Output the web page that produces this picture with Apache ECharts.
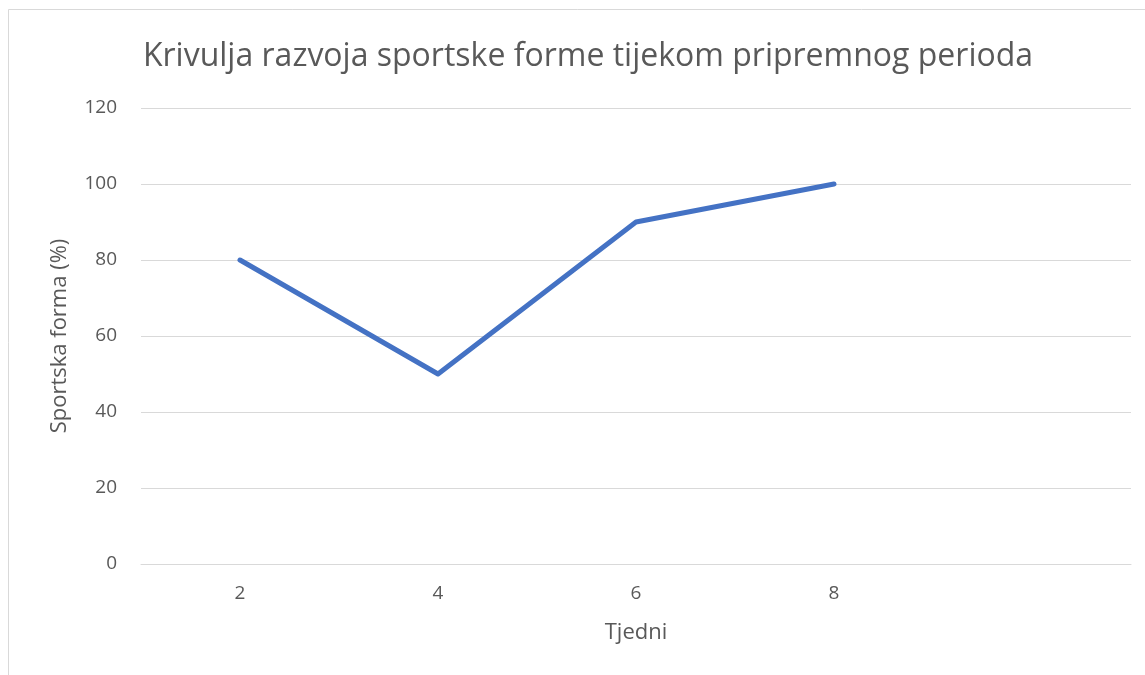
<!DOCTYPE html>
<html>
<head>
    <meta charset="utf-8">
    <title>ECharts</title>
    <script src="https://cdn.jsdelivr.net/npm/echarts@6/dist/echarts.min.js"></script>
    <style>
        html, body { margin: 0; padding: 0; background: #fff; }
    </style>
</head>
<body>
<div id="main" style="width: 1145px;height:675px;"></div>
<script type="text/javascript">
    // podaci
    var tjedni = ['2', '4', '6', '8', ''];
    var forma = [80, 50, 90, 100, null];
    var yTicks = [0, 120, 20]; // min, max, interval

    var txt = '#595959';
    var font = '"Open Sans", "Noto Sans", sans-serif';

    var myChart = echarts.init(document.getElementById('main'));
    var option = {
        backgroundColor: '#fff',
        animation: false,
        title: {
            text: 'Krivulja razvoja sportske forme tijekom pripremnog perioda',
            left: 583,
            top: 36,
            textAlign: 'center',
            textStyle: {color: txt, fontSize: 32, fontWeight: 'normal', fontFamily: font}
        },
        graphic: [{
            type: 'rect',
            shape: {x: 8.5, y: 9.5, width: 1200, height: 700},
            style: {fill: 'none', stroke: '#d9d9d9', lineWidth: 1},
            silent: true
        }],
        grid: {left: 141, right: 14, top: 108, bottom: 111},
        xAxis: {
            type: 'category',
            data: tjedni,
            boundaryGap: true,
            name: 'Tjedni',
            nameLocation: 'middle',
            nameGap: 58,
            nameTextStyle: {color: txt, fontSize: 22, fontFamily: font},
            axisLine: {show: true, lineStyle: {color: '#d9d9d9', width: 1}},
            axisTick: {show: false},
            axisLabel: {color: txt, fontSize: 19, fontFamily: font, margin: 20}
        },
        yAxis: {
            type: 'value',
            min: yTicks[0],
            max: yTicks[1],
            interval: yTicks[2],
            name: 'Sportska forma (%)',
            nameLocation: 'middle',
            nameGap: 70,
            nameRotate: 90,
            nameTextStyle: {color: txt, fontSize: 22, fontFamily: font},
            axisLine: {show: false},
            axisTick: {show: false},
            axisLabel: {color: txt, fontSize: 19, fontFamily: font, margin: 24},
            splitLine: {lineStyle: {color: '#d9d9d9', width: 1}}
        },
        series: [{
            type: 'line',
            data: forma,
            showSymbol: false,
            symbol: 'none',
            lineStyle: {color: '#4472C4', width: 5, cap: 'round', join: 'round'},
            itemStyle: {color: '#4472C4'}
        }]
    };
    myChart.setOption(option);
</script>
</body>
</html>
